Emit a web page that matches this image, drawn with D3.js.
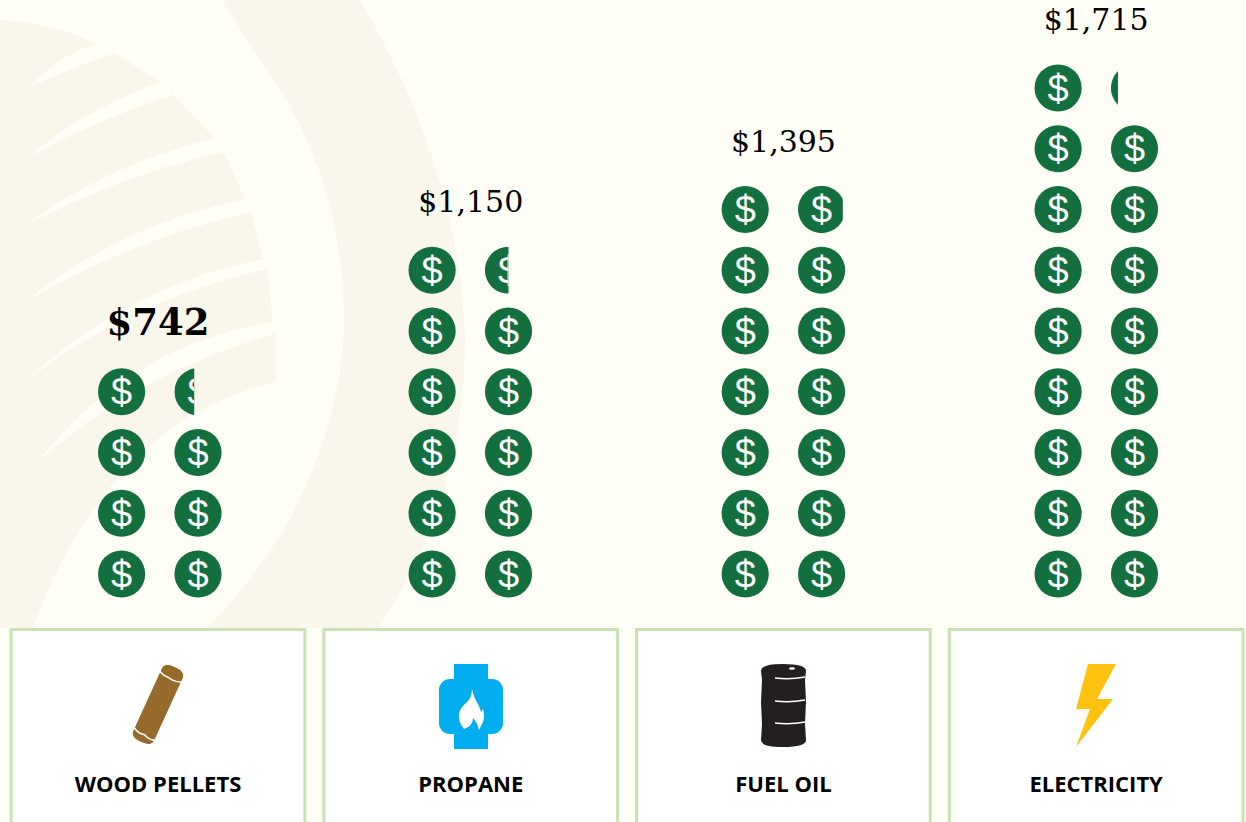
<!DOCTYPE html>
<html>
<head>
<meta charset="utf-8">
<script src="https://cdn.jsdelivr.net/npm/d3@7"></script>
<style>
  body { margin: 0; background: #fffff7; overflow: hidden; }
  svg { display: block; }
  .value-label { font-family: "DejaVu Serif", serif; fill: #000; text-anchor: middle; }
  .fuel-label { font-family: "Open Sans", sans-serif; font-weight: 700; font-size: 22px; fill: #000; text-anchor: middle; }
  .coin-sign { font-family: "Liberation Sans", sans-serif; font-size: 38px; fill: #fff; text-anchor: middle; }
</style>
</head>
<body>
<div id="chart"></div>
<script>
// chart values
const categories = ["WOOD PELLETS", "PROPANE", "FUEL OIL", "ELECTRICITY"];
const costs = [742, 1150, 1395, 1715];
const highlighted = ["WOOD PELLETS"];
const dollarsPerCoin = 100;

const width = 1246, height = 822;
const coinColor = "#13703e";
const coinRadius = 23.6;

const svg = d3.select("#chart").append("svg")
  .attr("width", width)
  .attr("height", height);

// scales
const cardScale = d3.scaleBand().domain(categories).range([1.7, 1252.5]);
const groupScale = d3.scaleOrdinal().domain(categories).range([159.8, 470.3, 783.4, 1096.3]);
const colScale = d3.scaleLinear().domain([0, 1]).range([-38.2, 38.2]);
const rowScale = d3.scaleLinear().domain([0, 8]).range([574, 88]);

// background swirl
const bg = svg.append("g").attr("fill", "#f9f6ec");
bg.append("path").attr("d",
  "M222,0 Q250,45 277,85 Q345,190 344,327 Q340,430 283,531 Q250,585 207,628 L378,628 " +
  "Q465,500 465,339 Q460,170 360,0 Z");
bg.append("path").attr("d",
  "M0,20 Q60,24 95,44 Q55,58 30,87 Q70,68 115,53 L160,82 Q80,112 29,157 Q100,118 173,95 " +
  "L215,138 Q105,165 25,226 Q120,175 224,152 L245,199 Q120,225 25,302 Q130,240 251,212 " +
  "L263,259 Q130,285 27,380 Q130,300 267,269 L273,322 Q130,345 39,461 Q135,375 276,333 " +
  "L276,382 Q110,420 33,628 L0,628 Z");

// one clip per partial coin
const defs = svg.append("defs");

const groups = svg.selectAll(".fuel")
  .data(categories)
  .enter()
  .append("g")
  .attr("class", "fuel");

groups.each(function (cat, k) {
  const g = d3.select(this);
  const cost = costs[k];
  const n = cost / dollarsPerCoin;
  const coins = d3.range(Math.ceil(n)).map(i => ({
    i: i,
    fraction: Math.min(1, n - i),
    x: groupScale(cat) + colScale(i % 2),
    y: rowScale(Math.floor(i / 2))
  }));

  const coin = g.selectAll(".coin")
    .data(coins)
    .enter()
    .append("g")
    .attr("class", "coin")
    .attr("clip-path", d => {
      if (d.fraction >= 1) return null;
      const id = "clip-" + k + "-" + d.i;
      defs.append("clipPath").attr("id", id).append("rect")
        .attr("x", d.x - coinRadius)
        .attr("y", d.y - coinRadius)
        .attr("width", 2 * coinRadius * d.fraction)
        .attr("height", 2 * coinRadius);
      return "url(#" + id + ")";
    });

  coin.append("circle")
    .attr("cx", d => d.x)
    .attr("cy", d => d.y)
    .attr("r", coinRadius)
    .attr("fill", coinColor);

  coin.append("text")
    .attr("class", "coin-sign")
    .attr("x", d => d.x)
    .attr("y", d => d.y + 13.5)
    .text("$");

  // value above the stack
  const topRow = Math.floor((Math.ceil(n) - 1) / 2);
  const isBold = highlighted.includes(cat);
  g.append("text")
    .attr("class", "value-label")
    .attr("x", cardScale(cat) + cardScale.bandwidth() / 2)
    .attr("y", rowScale(topRow) - (isBold ? 57 : 58))
    .style("font-size", isBold ? "37px" : "30px")
    .style("font-weight", isBold ? 700 : 400)
    .text(d3.format("$,")(cost));

  // card
  g.append("rect")
    .attr("x", cardScale(cat) + 9.5)
    .attr("y", 629.5)
    .attr("width", cardScale.bandwidth() - 19)
    .attr("height", 220)
    .attr("fill", "#fff")
    .attr("stroke", "#c9e2b3")
    .attr("stroke-width", 3);

  g.append("text")
    .attr("class", "fuel-label")
    .attr("x", cardScale(cat) + cardScale.bandwidth() / 2)
    .attr("y", 792)
    .text(cat);
});

// icons
const icons = svg.append("g");

// wood pellet
const pellet = icons.append("g").attr("transform", "translate(158,704.5) rotate(24.5)");
pellet.append("rect").attr("x", -11.5).attr("y", -41).attr("width", 23).attr("height", 82).attr("rx", 9).attr("ry", 6).attr("fill", "#966a2b");
pellet.append("path").attr("d", "M-12,-31 Q-6,-28 -2,-29 Q4,-27 12,-30").attr("fill", "none").attr("stroke", "#fff").attr("stroke-width", 1.6);
pellet.append("path").attr("d", "M-12,31 Q-5,35 0,33 Q6,36 12,34").attr("fill", "none").attr("stroke", "#fff").attr("stroke-width", 1.6);

// propane tank
const tank = icons.append("g").attr("fill", "#00aeef");
tank.append("rect").attr("x", 454).attr("y", 664).attr("width", 34).attr("height", 85);
tank.append("rect").attr("x", 439).attr("y", 679).attr("width", 64).attr("height", 55).attr("rx", 11);
tank.append("path").attr("fill", "#fff").attr("d",
  "M472,689 Q474,698 478,704 Q480,708 481,712 L483,709 Q485,716 483,722 L479,730 Q477,722 473,718 " +
  "Q473,726 464,729 Q458,722 459,713 Q461,707 466,703 Q472,698 472,689 Z");

// oil barrel
const barrel = icons.append("g");
barrel.append("path").attr("fill", "#231f20").attr("d",
  "M761,671 Q761,664 783,664 Q806,664 806,671 L805,680 L806,702 L805,724 L806,740 Q806,747 783,747 Q761,747 761,740 L762,724 L761,702 L762,680 Z");
barrel.selectAll(".rib")
  .data([678, 701, 723])
  .enter()
  .append("path")
  .attr("d", d => `M775,${d} Q790,${d + 2} 805,${d - 1}`)
  .attr("fill", "none")
  .attr("stroke", "#fff")
  .attr("stroke-width", 1.6);
barrel.append("ellipse").attr("cx", 792).attr("cy", 668.5).attr("rx", 3).attr("ry", 1.2).attr("fill", "#fff");

// lightning bolt
icons.append("path").attr("fill", "#ffc20e").attr("d",
  "M1088,664 L1116,664 L1097,699 L1113,699 L1076,747 L1090,709 L1076,709 Z");
</script>
</body>
</html>
